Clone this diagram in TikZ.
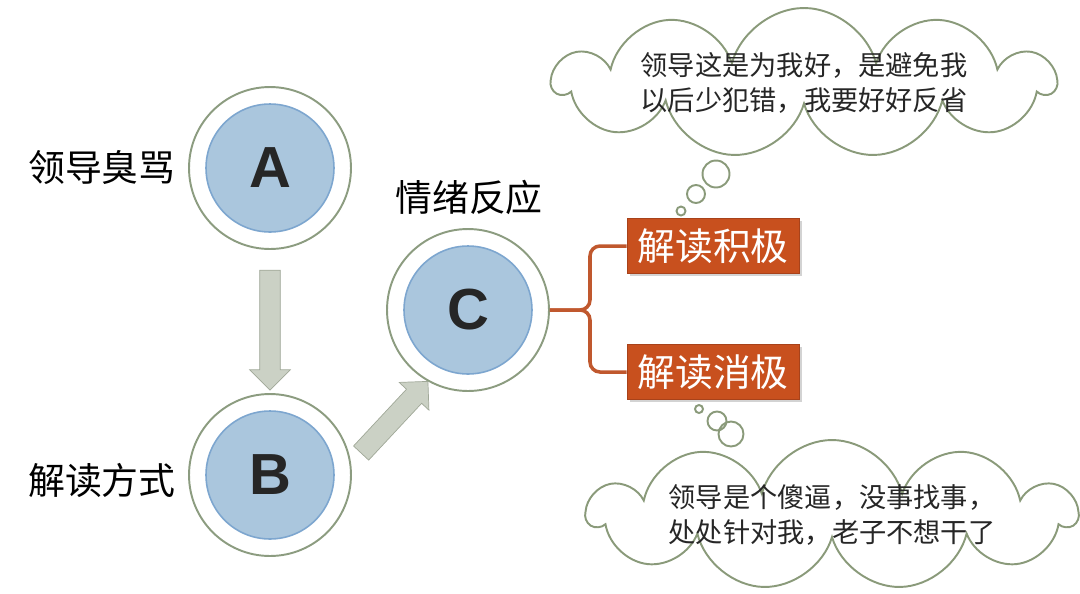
\documentclass[tikz,border=0pt]{standalone}
\usepackage{fontspec}
\newfontfamily\cjk{Noto Sans CJK SC}
\newfontfamily\letterfont{Liberation Sans}
\usepackage{xcolor}
\usepackage{tikz}
\usetikzlibrary{arrows.meta, shapes.arrows, shapes.symbols, shadows, positioning, calc}

\definecolor{ringline}{HTML}{8C9C80}
\definecolor{discline}{HTML}{7DA6CF}
\definecolor{discfill}{HTML}{AAC6DD}
\definecolor{arrline}{HTML}{A0A898}
\definecolor{arrfill}{HTML}{CBD1C5}
\definecolor{tagfill}{HTML}{C8501E}
\definecolor{tagline}{HTML}{A8421A}
\definecolor{braceline}{HTML}{C0582E}
\definecolor{cloudline}{HTML}{8A9A7A}

\begin{document}
\begin{tikzpicture}[
    x=0.02cm, y=-0.02cm,
    ring/.style={draw=ringline, line width=1.1pt, circle, minimum size=3.24cm, fill=white},
    disc/.style={draw=discline, line width=0.9pt, circle, minimum size=2.56cm, fill=discfill,
      font=\letterfont\bfseries\fontsize{33}{33}\selectfont, text=black!85},
    lbl/.style={font=\cjk\fontsize{21}{21}\selectfont},
    blockarr/.style={single arrow, draw=arrline, fill=arrfill, minimum width=0.8cm,
      single arrow head extend=0.2cm, inner xsep=0pt, inner ysep=0.2cm},
    tag/.style={draw=tagline, fill=tagfill, text=white, minimum width=3.44cm, minimum height=1.1cm,
      font=\cjk\fontsize{21.5}{21.5}\selectfont,
      drop shadow={opacity=0.35, shadow xshift=1.5pt, shadow yshift=-1.5pt}},
    thought/.style={cloud, cloud puffs=11, cloud ignores aspect, draw=cloudline, line width=1.1pt,
      inner xsep=-1.5cm, inner ysep=-0.2cm, align=center,
      font=\cjk\fontsize{15.5}{20}\selectfont, text=black!85},
    bubble/.style={circle, draw=cloudline, line width=1.1pt, inner sep=0pt},
    brace/.style={draw=braceline, line width=2pt, rounded corners=0.2cm},
  ]
  \useasboundingbox (0,0) rectangle (1080,593);

  % the three stages
  \node[ring] (A) at (270,168) {};
  \node[disc] (Ain) at (A) {A};
  \node[ring] (B) at (270,475) {};
  \node[disc] (Bin) at (B) {B};
  \node[ring] (C) at (468,310) {};
  \node[disc] (Cin) at (C) {C};

  \node[lbl] (la) at (102,168) {领导臭骂};
  \node[lbl] (lb) at (102,480) {解读方式};
  \node[lbl] (lc) at (469,197) {情绪反应};

  % block arrows between the stages
  \node[blockarr, minimum height=2.4cm, rotate=-90] (ab) at (270,325) {};
  \node[blockarr, minimum height=1.96cm, rotate=47] (bc) at (391,421) {};

  % two readings
  \node[tag] (pos) at (713,246) {解读积极};
  \node[tag] (neg) at (713,372) {解读消极};
  \draw[brace] (C.east) -- (590,310) |- (pos.west);
  \draw[brace] (C.east) -- (590,310) |- (neg.west);

  % thoughts
  \node[thought, minimum width=10cm, minimum height=3cm] (up) at (804,83)
    {领导这是为我好，是避免我\\以后少犯错，我要好好反省};
  \node[bubble, minimum size=0.54cm] (u1) at (716,174) {};
  \node[bubble, minimum size=0.36cm] (u2) at (696,194) {};
  \node[bubble, minimum size=0.18cm] (u3) at (681,211) {};

  \node[thought, minimum width=9.75cm, minimum height=3cm] (down) at (832,515)
    {领导是个傻逼，没事找事，\\处处针对我，老子不想干了};
  \node[bubble, minimum size=0.16cm] (d1) at (699,409) {};
  \node[bubble, minimum size=0.38cm] (d2) at (717,421) {};
  \node[bubble, minimum size=0.5cm] (d3) at (731,434) {};
\end{tikzpicture}
\end{document}
